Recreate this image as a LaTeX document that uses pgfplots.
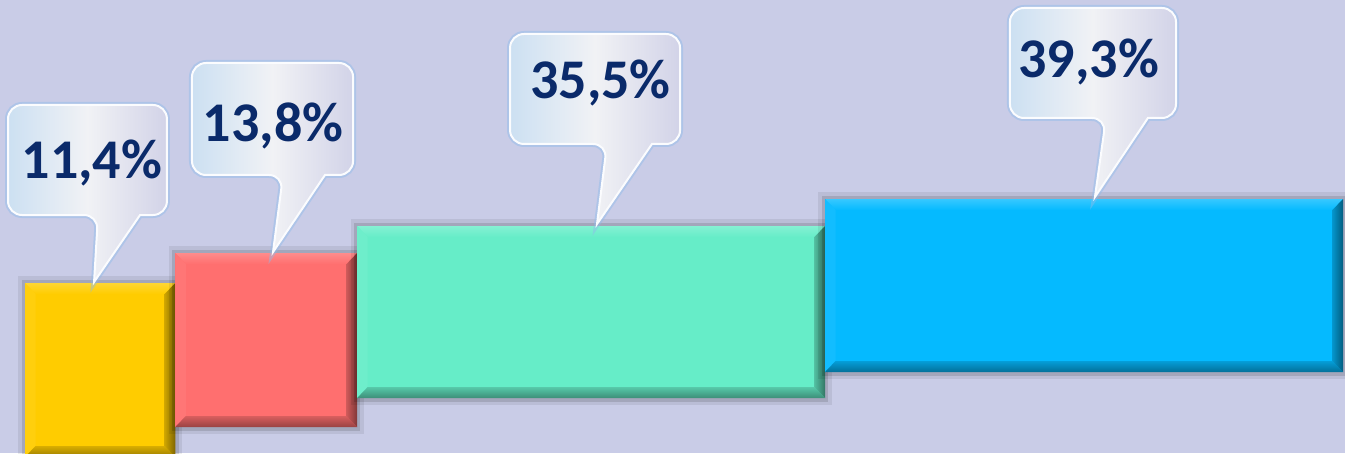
\documentclass[border=0pt]{standalone}
\usepackage{fontspec}
\setmainfont{Carlito}
\usepackage{pgfplots}
\pgfplotsset{compat=1.18}
\definecolor{bg}{HTML}{C9CCE7}
\definecolor{cY}{HTML}{FFCC00}
\definecolor{cR}{HTML}{FF6F6F}
\definecolor{cG}{HTML}{66EDC8}
\definecolor{cB}{HTML}{05BAFF}
\definecolor{txt}{HTML}{0A2A6A}
\definecolor{cl}{HTML}{CCE0F2}
\definecolor{cm}{HTML}{F1F2F5}
\definecolor{cr}{HTML}{D2D3E8}
\definecolor{glow}{HTML}{8EBBEA}

% #1 x-left, #2 x-right, #3 y-bottom, #4 y-top, #5 colour
\newcommand\bevelbar[5]{%
  \pgfmathsetmacro\xai{#1+0.8}%
  \pgfmathsetmacro\xbi{#2-0.8}%
  \pgfmathsetmacro\yai{#3+11}%
  \pgfmathsetmacro\ybi{#4-11}%
  \pgfmathsetmacro\xsa{#1-0.5}%
  \pgfmathsetmacro\xsb{#2+0.5}%
  \pgfmathsetmacro\ysa{#3-7}%
  \pgfmathsetmacro\ysb{#4+7}%
  \pgfmathsetmacro\xta{#1-0.25}%
  \pgfmathsetmacro\xtb{#2+0.25}%
  \pgfmathsetmacro\yta{#3-3.5}%
  \pgfmathsetmacro\ytb{#4+3.5}%
  \edef\tmp{%
  \noexpand\addplot[fill=black, fill opacity=0.07, draw=none] coordinates {(\xsa,\ysa) (\xsb,\ysa) (\xsb,\ysb) (\xsa,\ysb)} --cycle;
  \noexpand\addplot[fill=black, fill opacity=0.12, draw=none] coordinates {(\xta,\yta) (\xtb,\yta) (\xtb,\ytb) (\xta,\ytb)} --cycle;
  \noexpand\addplot[fill=#5, draw=none] coordinates {(#1,#3) (#2,#3) (#2,#4) (#1,#4)} --cycle;
  \noexpand\addplot[top color=#5!80!white, bottom color=#5, draw=none] coordinates {(#1,#4) (#2,#4) (\xbi,\ybi) (\xai,\ybi)} --cycle;
  \noexpand\addplot[fill=#5!95!white, draw=none] coordinates {(#1,#3) (#1,#4) (\xai,\ybi) (\xai,\yai)} --cycle;
  \noexpand\addplot[top color=#5!85!black, bottom color=#5!60!black, draw=none] coordinates {(#1,#3) (#2,#3) (\xbi,\yai) (\xai,\yai)} --cycle;
  \noexpand\addplot[left color=#5!80!black, right color=#5!50!black, draw=none] coordinates {(#2,#3) (#2,#4) (\xbi,\ybi) (\xbi,\yai)} --cycle;
  }%
  \tmp}

% #1 L, #2 R, #3 B, #4 T, #5 tail-left, #6 tail-right, #7 tip x, #8 tip y
\newcommand\callout[8]{%
  \draw[glow, line width=6pt, opacity=0.45]
    (axis cs:#7,#8) -- (axis cs:#6,#3) [rounded corners=14pt] -- (axis cs:#2,#3) -- (axis cs:#2,#4)
    -- (axis cs:#1,#4) -- (axis cs:#1,#3) -- (axis cs:#5,#3) [sharp corners] -- cycle;
  \draw[white!92!cl, line width=2pt, left color=cl, right color=cr, middle color=cm]
    (axis cs:#7,#8) -- (axis cs:#6,#3) [rounded corners=14pt] -- (axis cs:#2,#3) -- (axis cs:#2,#4)
    -- (axis cs:#1,#4) -- (axis cs:#1,#3) -- (axis cs:#5,#3) [sharp corners] -- cycle;
}

\begin{document}
\begin{tikzpicture}
\begin{axis}[
  width=1345pt, height=453pt, scale only axis,
  xmin=-1.897, xmax=100.152, ymin=0, ymax=453,
  hide axis,
]
\fill[bg] (rel axis cs:0,0) rectangle (rel axis cs:1,1);

\bevelbar{0}{11.4}{-4}{170}{cY}
\bevelbar{11.4}{25.2}{26}{200}{cR}
\bevelbar{25.2}{60.7}{55}{227}{cG}
\bevelbar{60.7}{100}{81}{254}{cB}

\callout{-1.29}{10.77}{238}{348}{5.54}{8.73}{5.24}{171}
\callout{12.67}{24.89}{278}{390}{19.58}{22.76}{18.82}{201}
\callout{36.80}{49.70}{309}{419}{44.16}{47.57}{43.40}{229}
\callout{74.73}{87.33}{335}{445}{82.02}{85.20}{81.18}{256}

\node[anchor=base, text=txt, font=\fontsize{56}{60}\selectfont\bfseries] at (axis cs:5.08,275) {11,4\%};
\node[anchor=base, text=txt, font=\fontsize{56}{60}\selectfont\bfseries] at (axis cs:18.82,311) {13,8\%};
\node[anchor=base, text=txt, font=\fontsize{56}{60}\selectfont\bfseries] at (axis cs:43.66,354) {35,5\%};
\node[anchor=base, text=txt, font=\fontsize{56}{60}\selectfont\bfseries] at (axis cs:80.70,375) {39,3\%};
\end{axis}
\end{tikzpicture}
\end{document}
